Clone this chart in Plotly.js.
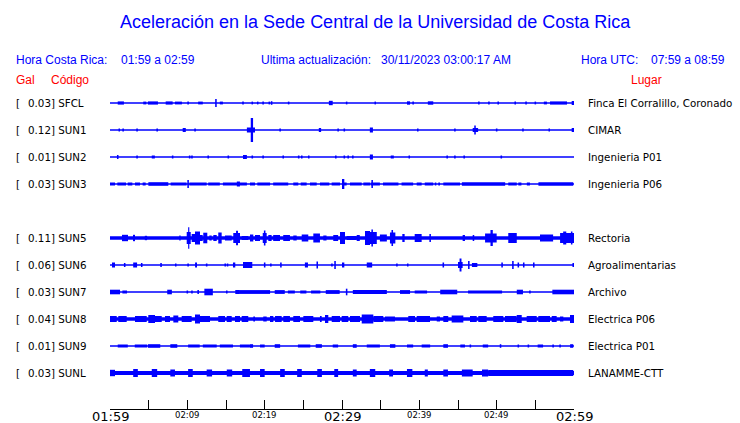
<!DOCTYPE html>
<html><head><meta charset="utf-8">
<script src="https://cdn.plot.ly/plotly-3.0.1.min.js"></script>
<style>html,body{margin:0;padding:0;background:#fff}#chart{width:740px;height:423px}</style>
</head><body><div id="chart"></div>
<script>
// ---- data (time in minutes after 01:59, amplitude = half height of envelope) ----
const codes  = ['SFCL','SUN1','SUN2','SUN3','SUN5','SUN6','SUN7','SUN8','SUN9','SUNL'];
const galVals = ['0.03','0.12','0.01','0.03','0.11','0.06','0.03','0.04','0.01','0.03'];
const places = ['Finca El Corralillo, Coronado','CIMAR','Ingenieria P01','Ingenieria P06','Rectoria',
                'Agroalimentarias','Archivo','Electrica P06','Electrica P01','LANAMME-CTT'];
const rowSlots = [0,1,2,3,5,6,7,8,9,10];
const tickMinutes = [0,5,10,15,20,25,30,35,40,45,50,55,60];
const labelMinutes = [0,10,20,30,40,50,60];
const tickLabels = ['01:59','02:09','02:19','02:29','02:39','02:49','02:59'];
const bigLabel = [true,false,false,true,false,false,true];

const burstsSFCL = [[1.0,1.8,1.6],[4.3,4.7,1.4],[4.9,6.2,1.6],[7.2,8.1,1.6],[8.4,9.3,1.4],[10.0,10.2,1.5],[11.4,12.0,1.4],
 [13.6,13.8,4],[14.2,14.6,1.4],[17.1,17.3,1.4],[18.3,18.5,1.4],[19.0,19.2,1.4],[19.7,19.9,1.4],[20.5,20.7,1.4],
 [20.8,21.0,1.8],[23.0,23.2,1.4],[28.3,28.8,2.2],[30.5,30.7,1.4],[34.2,34.4,1.4],[38.4,38.8,1.7],[39.1,39.3,1.4],
 [41.1,41.8,1.7],[47.6,47.8,1.4],[48.9,49.1,1.4],[50.1,50.3,1.4],[52.3,52.5,1.4],[53.7,53.9,1.4],[54.9,55.1,1.4],
 [56.1,56.5,1.4],[56.9,59.1,1.6],[59.7,60,2]];
const burstsSUN1 = [[1.1,1.3,1.5],[1.6,1.8,1.5],[3.4,3.6,1.5],[6.0,6.2,1.5],[9.4,9.8,2],[10.9,11.1,1.5],
 [17.7,18.75,2.5],[18.2,18.5,12],[21.9,22.1,1.5],[27.0,27.3,2],[29.4,29.6,1.5],[30.2,30.4,1.5],[33.6,34.0,2.5],
 [39.7,39.9,1.5],[44.5,44.7,1.5],[46.9,47.6,2],[47.1,47.3,4.5],[49.9,50.1,1.5],[53.3,53.5,1.5],[56.7,56.9,1.5],[59.7,60,2]];
const burstsSUN2 = [[0.9,1.1,2],[3.4,3.6,1.5],[5.4,5.8,1.5],[8.0,8.2,1.5],[10.2,10.4,1.5],[10.5,10.7,1.5],
 [12.6,12.8,1.5],[15.2,15.4,1.5],[17.2,17.7,2],[18.3,18.5,1.5],[19.7,19.9,1.5],[22.3,22.5,1.5],[24.3,24.5,1.5],
 [24.7,24.9,1.5],[25.6,25.8,1.5],[29.1,29.3,1.5],[30.2,30.4,1.5],[30.7,30.9,1.5],[31.3,31.5,1.5],[33.6,34.0,2.5],
 [36.3,36.7,1.5],[38.6,38.8,1.5],[43.5,43.7,1.5],[44.5,44.7,1.5],[45.7,45.9,1.5],[50.5,50.7,1.5]];
const burstsSUN3 = [[0,0.65,1.5],[0.95,2.07,1.5],[2.29,2.89,1.5],[3.23,3.88,1.5],[4.22,4.61,1.5],[4.96,7.54,1.8],
 [7.84,9.91,1.5],[10.26,12.5,1.5],[12.7,14.2,1.5],[14.6,17.7,1.5],[18.1,18.75,1.5],[19.05,20.7,1.5],[21.1,23.05,1.5],
 [23.7,24.35,1.5],[24.66,25.43,1.5],[25.86,26.73,1.5],[27.15,28.36,1.5],[28.66,29.74,1.5],[30.09,30.6,1.5],
 [31.03,32.55,1.5],[32.76,33.62,1.5],[33.7,34.9,1.5],[35.3,37.3,1.5],[37.7,39.2,1.5],[39.66,40.3,1.5],[40.7,41.8,1.5],
 [42.0,42.2,1.5],[42.45,42.67,1.5],[43.1,45.26,1.5],[45.5,51.1,1.7],[51.5,52.6,1.5],[52.8,53.2,1.5],[53.9,54.3,1.5],
 [55.4,59.9,1.7],[10.0,10.2,4],[16.4,16.8,2.5],[30.0,30.3,5],[33.8,34.0,4]];
const burstsSUN5 = [[0,60,1.7],[1.55,2.33,3.2],[2.97,3.23,3.2],[4.5,4.8,2.2],[8.96,9.13,2.5],[9.92,10.44,6],
 [10.12,10.24,10.8],[10.56,10.99,4],[10.99,11.64,6.5],[11.64,11.99,3],[12.06,12.58,5.3],[12.84,13.15,2.5],
 [13.36,13.8,3],[14.0,14.44,5.5],[14.87,15.74,2.5],[15.94,16.81,5],[16.3,16.55,7.3],[17.03,17.88,2],[18.1,18.53,3.5],
 [18.75,19.4,3],[19.75,20.26,5],[19.9,20.1,7.5],[20.47,20.9,3],[21.1,21.98,3],[22.4,23.27,3],[23.7,24.14,2.5],
 [24.79,25.64,3.5],[26.29,27.15,4.5],[27.58,28.0,2.5],[28.87,29.5,3],[29.74,30.39,6],[30.6,31.9,2],[31.9,32.3,3],
 [32.97,33.62,7],[33.62,34.5,6],[33.8,34.0,8.5],[34.9,35.8,3.5],[36.2,36.9,5.5],[36.4,36.6,8],[37.8,38.1,4],
 [39.4,40.3,4],[41.3,41.5,4],[45.6,45.9,3],[46.9,47.1,3],[48.5,50.0,4.5],[49.2,49.5,8],[51.5,52.6,5],[55.6,57.3,3.5],
 [58.2,60,5],[58.6,59.0,6.5],[59.6,59.8,6.5]];
const burstsSUN6 = [[0.26,0.65,2.5],[1.8,2.0,2],[3.0,3.5,2.5],[4.0,4.2,2],[6.5,6.7,2],[8.4,8.6,1.5],[10.0,10.2,1.5],
 [11.0,11.25,2.5],[12.4,12.6,1.5],[14.8,15.0,1.5],[15.1,15.3,1.5],[15.9,16.2,2.5],[17.2,18.4,3],[19.9,20.1,2.5],
 [20.7,20.9,1.5],[22.0,22.2,2.5],[25.2,25.6,2.5],[26.7,26.9,3.5],[28.6,28.8,1.5],[29.0,29.2,4],[30.0,30.3,2.5],
 [33.2,33.9,2.5],[37.0,37.2,1.5],[38.4,38.6,1.5],[43.0,43.2,2.5],[45.0,45.6,3],[45.2,45.45,6.5],[46.3,46.5,4],
 [46.8,47.5,2],[50.6,50.8,2.5],[52.0,52.2,4],[52.7,52.9,2.5],[53.4,53.6,2.5],[54.7,54.9,2.5],[59.8,60,2]];
const burstsSUN7 = [[0,1.3,2.3],[1.6,2.2,1.5],[7.4,8.0,2.3],[9.9,10.1,1.5],[10.5,10.7,1.5],[11.3,11.5,2],[12.2,13.3,3.3],
 [15.0,15.2,1.5],[16.2,16.8,2],[16.8,20.7,1.9],[21.3,22.6,1.9],[23.0,23.9,1.5],[24.6,25.4,1.5],[26.0,27.2,1.5],
 [27.9,29.7,1.9],[30.5,30.7,3.3],[31.4,35.8,1.9],[37.5,38.8,1.9],[39.4,41.0,1.5],[42.7,44.9,2.3],[46.3,50.7,1.5],
 [52.6,53.4,2.3],[54.2,54.4,1.5],[57.2,60,2.3]];
const burstsSUN8 = [[0,60,1.8],[0,0.87,3],[1.07,2.16,3],[3.23,4.75,3],[4.95,5.82,4],[5.82,6.69,3],[7.11,7.76,3],
 [8.19,8.83,3.5],[9.27,10.56,3],[10.99,11.64,4.5],[11.64,12.93,3],[14.0,14.87,3],[15.09,15.74,3],[16.16,16.81,3],
 [17.03,17.88,3],[18.53,18.75,2.5],[19.82,20.26,2.5],[20.69,21.12,3],[21.34,22.2,3],[22.41,23.27,3],[23.7,24.57,3],
 [25.0,26.29,3],[27.15,27.37,3],[27.8,28.23,4],[28.67,29.74,3],[29.96,30.81,3],[31.03,32.33,3],[32.55,34.05,4.5],
 [34.05,35.34,3],[35.56,36.85,2.5],[38.57,39.44,3],[39.66,41.38,3],[42.25,42.67,2.5],[43.1,43.74,3],[44.18,45.69,3.5],
 [46.55,47.42,3],[47.62,48.71,3],[49.56,50.86,3],[51.08,52.59,3],[52.59,53.24,4],[53.88,55.18,3],[55.38,56.9,3],
 [57.12,57.76,3],[58.19,58.62,2.5],[59.48,60,4]];
const burstsSUN9 = [[1.0,2.3,1.5],[3.2,4.8,1.5],[4.9,6.5,1.8],[7.8,8.7,1.8],[10.1,11.6,1.5],[12.0,13.8,1.5],[14.2,15.9,1.5],
 [16.8,18.1,1.5],[18.1,18.5,1.8],[19.4,20.0,1.5],[21.3,22.0,1.8],[24.3,25.9,1.5],[26.6,27.4,1.8],[28.8,29.5,1.5],
 [31.4,31.9,1.8],[33.2,34.9,1.5],[36.2,36.9,1.8],[38.4,39.2,1.5],[40.3,41.4,1.5],[43.1,43.7,1.8],[45.3,45.9,1.5],
 [46.5,46.7,1.5],[48.2,48.9,1.5],[50.4,50.6,1.8],[52.7,52.9,1.5],[54.0,54.2,1.5],[55.3,56.0,1.5],[57.2,57.4,1.5],
 [58.1,58.3,1.5],[59.5,59.9,1.8]];
const burstsSUNL = [[0,60,2.0],[0,0.65,3.2],[3.0,3.6,4],[5.4,6.1,4],[7.8,8.4,3.5],[10.1,10.7,4],[12.5,13.2,3.5],
 [15.1,15.8,3.5],[17.1,18.1,4],[19.4,20.0,4],[22.0,22.6,4],[24.2,24.8,4],[26.8,27.4,4],[29.0,29.5,4],
 [31.4,31.9,3.5],[33.6,34.3,4],[36.1,36.6,3.5],[38.4,39.1,4],[40.7,41.1,3.5],[43.1,43.7,3.5],[45.5,46.9,3.5],
 [48.1,48.9,3.5],[48.9,59.9,3]];
const allBursts = [burstsSFCL,burstsSUN1,burstsSUN2,burstsSUN3,burstsSUN5,burstsSUN6,burstsSUN7,burstsSUN8,burstsSUN9,burstsSUNL];

// ---- layout geometry ----
const W = 740, H = 423, L = 110, R = 166, T = 90, B = 14;
const plotW = W - L - R, plotH = H - T - B;
const rowStep = 27;
const px2paperX = p => (p - L) / plotW;
const py2paperY = p => (H - B - p) / plotH;
const blue = '#0000ff';

const traces = [];
codes.forEach((c, i) => {
  const yc = -rowSlots[i] * rowStep;
  traces.push({type:'scatter', mode:'lines', x:[0,60], y:[yc,yc], line:{color:blue, width:1.5}, hoverinfo:'skip'});
  const b = allBursts[i];
  traces.push({type:'bar', x:b.map(s => (s[0]+s[1])/2), width:b.map(s => Math.max(s[1]-s[0],0.15)),
    base:b.map(s => yc - s[2]), y:b.map(s => 2*s[2]), marker:{color:blue, line:{width:0}}, hoverinfo:'skip'});
});

const ann = [];
const fLab = {family:'DejaVu Sans', size:10.3, color:'#000'};
codes.forEach((c, i) => {
  const yc = -rowSlots[i] * rowStep;
  ann.push({xref:'paper', yref:'y', x:px2paperX(14), y:yc, text:'[', xanchor:'left', yanchor:'middle', showarrow:false, font:fLab});
  ann.push({xref:'paper', yref:'y', x:px2paperX(26), y:yc, text:galVals[i] + '] ' + c, xanchor:'left', yanchor:'middle', showarrow:false, font:fLab});
  ann.push({xref:'paper', yref:'y', x:px2paperX(586), y:yc, text:places[i], xanchor:'left', yanchor:'middle', showarrow:false, font:fLab});
});
labelMinutes.forEach((m, i) => {
  ann.push({xref:'x', yref:'paper', x:m, y:py2paperY(bigLabel[i] ? 416.5 : 415), text:tickLabels[i], xanchor:'center', yanchor:'middle',
    showarrow:false, font:{family:'DejaVu Sans', size:bigLabel[i] ? 13 : 8.5, color:'#000'}});
});
const fHead = {family:'Liberation Sans', size:12, color:blue};
const fRed = {family:'Liberation Sans', size:12, color:'#ff0000'};
const headTexts = [
  [375, 22, 'Aceleración en la Sede Central de la Universidad de Costa Rica', {family:'Liberation Sans', size:18, color:blue}, 'center'],
  [14, 60, 'Hora Costa Rica:', fHead, 'left'], [119, 60, '01:59 a 02:59', fHead, 'left'],
  [259, 60, 'Ultima actualización:', fHead, 'left'], [379, 60, '30/11/2023 03:00:17 AM', fHead, 'left'],
  [579, 60, 'Hora UTC:', fHead, 'left'], [649, 60, '07:59 a 08:59', fHead, 'left'],
  [14, 80, 'Gal', fRed, 'left'], [49, 80, 'Código', fRed, 'left'], [629, 80, 'Lugar', fRed, 'left']
];
headTexts.forEach(h => ann.push({xref:'paper', yref:'paper', x:px2paperX(h[0]), y:py2paperY(h[1]), text:h[2], font:h[3],
  xanchor:h[4], yanchor:'middle', showarrow:false}));

const layout = {
  width:W, height:H, margin:{l:L, r:R, t:T, b:B, pad:0}, paper_bgcolor:'#fff', plot_bgcolor:'#fff',
  showlegend:false, barmode:'overlay', hovermode:false,
  xaxis:{range:[0,60], tickvals:tickMinutes, ticks:'inside', ticklen:9, tickwidth:1, tickcolor:'#000',
    showticklabels:false, showline:true, linecolor:'#000', linewidth:1, showgrid:false, zeroline:false, fixedrange:true},
  yaxis:{range:[-(H - B - T - 13), 13], visible:false, fixedrange:true},
  annotations:ann
};
Plotly.newPlot('chart', traces, layout, {staticPlot:true, displayModeBar:false});
</script></body></html>
